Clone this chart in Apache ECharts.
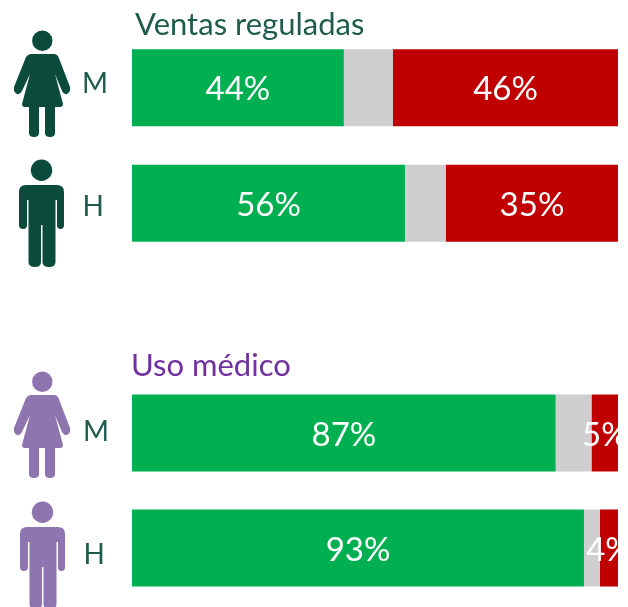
<!DOCTYPE html>
<html><head><meta charset="utf-8">
<style>html,body{margin:0;padding:0;background:#fff;overflow:hidden}#c{width:618px;height:607px}</style>
<script src="https://cdn.jsdelivr.net/npm/echarts@6/dist/echarts.min.js"></script>
</head><body><div id="c"></div>
<script>
const categories = ['M', 'H'];
const ventasVerde = [43.6, 56.2];
const ventasGris = [10.1, 8.4];
const ventasRojo = [46.3, 35.4];
const usoVerde = [87.2, 93.0];
const usoGris = [7.4, 3.3];
const usoRojo = [5.4, 3.7];
const groupTitles = ['Ventas reguladas', 'Uso médico'];

const FONT = 'Lato';
const GREEN = '#00b050', GREY = '#d0cece', RED = '#c00000';
const DARK = '#0a4b3c', PURPLE = '#8e75b0', LABEL = '#1f5c4d';

const womanPath = 'M31 54H54Q57 54 58.5 57L70 87Q71 92 67 94Q64 95 62 91L55 74L63 104Q63 107 60 107H55V133Q55 137 50 137Q45 137 45 133V107H39V133Q39 137 34 137Q29 137 29 133V107H25Q22 107 22 104L30 74L22 91Q20 95 17 94Q13 92 14 87L26 57Q28 54 31 54Z';
const manPath = 'M26 185H57Q64 185 64 192V225Q64 229 60.5 229Q57 229 57 225V200H55.5V262Q55.5 267 49 267Q42.5 267 42.5 262V225H41V262Q41 267 35 267Q28.5 267 28.5 262V200H27V225Q27 229 23 229Q19 229 19 225V192Q19 185 26 185Z';
echarts.graphic.registerShape('womanBody', echarts.graphic.extendPath(womanPath, {}));
echarts.graphic.registerShape('manBody', echarts.graphic.extendPath(manPath, {}));

function person(bodyType, hx, hy, r, color, dx, dy) {
  return {type: 'group', x: dx, y: dy, silent: true, children: [
    {type: 'circle', shape: {cx: hx, cy: hy, r}, style: {fill: color}},
    {type: bodyType, style: {fill: color}}
  ]};
}

function stack(name, data, color, idx, withLabel) {
  return {
    name, type: 'bar', stack: 'g' + idx, xAxisIndex: idx, yAxisIndex: idx, data,
    barWidth: 77, silent: true, animation: false,
    itemStyle: {color},
    label: withLabel ? {
      show: true, position: 'inside', offset: [0, 2], color: '#fff', fontFamily: FONT, fontSize: 33,
      fontWeight: 400, formatter: p => Math.round(p.value) + '%'
    } : {show: false}
  };
}
function yAxis(idx, offs) {
  const rich = {};
  offs.forEach((o, i) => { rich['r' + i] = {color: LABEL, fontFamily: FONT, fontSize: 28, fontWeight: 400, padding: o}; });
  return {
    type: 'category', gridIndex: idx, inverse: true,
    data: categories,
    axisLine: {show: false}, axisTick: {show: false},
    axisLabel: {margin: 20, rich, formatter: (v, i) => '{r' + i + '|' + v + '}'}
  };
}
function xAxis(idx) {
  return {type: 'value', gridIndex: idx, min: 0, max: 100, show: false};
}

const chart = echarts.init(document.getElementById('c'), null, {renderer: 'canvas'});
chart.setOption({
  animation: false,
  backgroundColor: '#fff',
  grid: [
    {left: 132, right: 0, top: 30, height: 231},
    {left: 132, right: 0, top: 375.5, height: 230}
  ],
  xAxis: [xAxis(0), xAxis(1)],
  yAxis: [
    yAxis(0, [[0, 4, 7, 0], [8, 8, 0, 0]]),
    yAxis(1, [[2, 3, 4, 0], [14, 7, 0, 0]])
  ],
  series: [
    stack('Verde', ventasVerde, GREEN, 0, true),
    stack('Gris', ventasGris, GREY, 0, false),
    stack('Rojo', ventasRojo, RED, 0, true),
    stack('Verde', usoVerde, GREEN, 1, true),
    stack('Gris', usoGris, GREY, 1, false),
    stack('Rojo', usoRojo, RED, 1, true)
  ],
  graphic: {elements: [
    {type: 'text', left: 135, top: 9, silent: true, style: {text: groupTitles[0], fill: LABEL, font: '400 31px ' + FONT}},
    {type: 'text', left: 131, top: 350, silent: true, style: {text: groupTitles[1], fill: '#7030a0', font: '400 31px ' + FONT}},
    person('womanBody', 42.3, 40.7, 10.2, DARK, 0, 0),
    person('manBody', 41.5, 170.3, 10.7, DARK, 0, 0),
    person('womanBody', 42.3, 40.7, 10.2, PURPLE, 0, 341),
    person('manBody', 41.5, 170.3, 10.7, PURPLE, 1, 342)
  ]}
});
</script></body></html>
